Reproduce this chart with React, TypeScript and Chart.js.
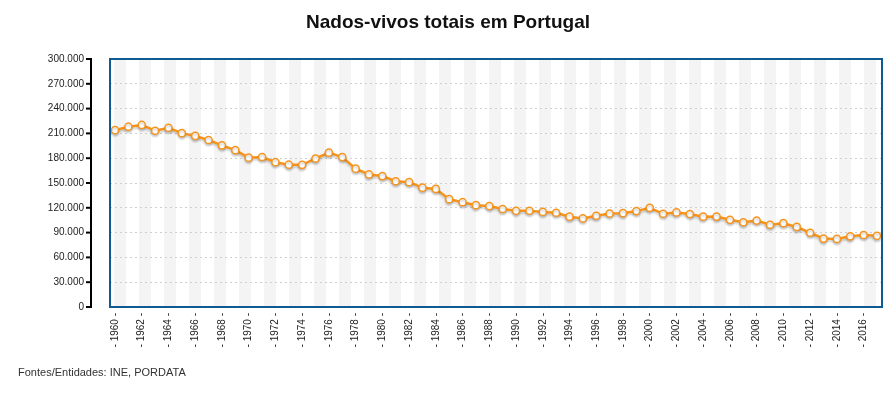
import React, { useEffect, useRef } from "react";
import { Chart, registerables } from "chart.js";

Chart.register(...registerables);

const chartTitle = "Nados-vivos totais em Portugal";
const sourceText = "Fontes/Entidades: INE, PORDATA";

const years = [
  1960, 1961, 1962, 1963, 1964, 1965, 1966, 1967, 1968, 1969,
  1970, 1971, 1972, 1973, 1974, 1975, 1976, 1977, 1978, 1979,
  1980, 1981, 1982, 1983, 1984, 1985, 1986, 1987, 1988, 1989,
  1990, 1991, 1992, 1993, 1994, 1995, 1996, 1997, 1998, 1999,
  2000, 2001, 2002, 2003, 2004, 2005, 2006, 2007, 2008, 2009,
  2010, 2011, 2012, 2013, 2014, 2015, 2016, 2017,
];

const births = [
  213895, 218091, 220200, 213233, 216819, 210299, 206940, 202011, 195570, 189762,
  180690, 181469, 175157, 172110, 172000, 179648, 186712, 181413, 167347, 160314,
  158352, 152101, 151029, 144327, 142805, 130492, 126748, 123218, 122121, 118560,
  116383, 116415, 115018, 114030, 109287, 107184, 110363, 113047, 113510, 116002,
  120008, 112774, 114383, 112515, 109298, 109399, 105449, 102492, 104594, 99491,
  101381, 96856, 89841, 82787, 82367, 85500, 87126, 86154,
];

const xTickYears = [
  1960, 1962, 1964, 1966, 1968, 1970, 1972, 1974, 1976, 1978,
  1980, 1982, 1984, 1986, 1988, 1990, 1992, 1994, 1996, 1998,
  2000, 2002, 2004, 2006, 2008, 2010, 2012, 2014, 2016,
];

const yTicks = [0, 30000, 60000, 90000, 120000, 150000, 180000, 210000, 240000, 270000, 300000];

const FONT = "'Liberation Sans', Arial, sans-serif";
const ORANGE = "#f7941d";
const BLUE = "#0f5a92";

function fmtThousands(v: number): string {
  return String(Math.round(v)).replace(/\B(?=(\d{3})+(?!\d))/g, ".");
}

const decorPlugin = {
  id: "decor",
  beforeDraw(chart: any) {
    const { ctx, chartArea } = chart;
    const xs = chart.scales.x;
    const start = xs.getPixelForValue(years[0]) - 1;
    const period = 25;
    const bandW = 12;
    ctx.save();
    ctx.fillStyle = "#f4f4f4";
    for (let x = start - period * 2; x < chartArea.right; x += period) {
      const a = Math.max(x, chartArea.left);
      const b = Math.min(x + bandW, chartArea.right);
      if (b > a) ctx.fillRect(a, chartArea.top, b - a, chartArea.bottom - chartArea.top);
    }
    ctx.restore();
  },
  beforeDatasetsDraw(chart: any) {
    const ctx = chart.ctx;
    ctx.save();
    ctx.shadowColor = "rgba(0,0,0,0.18)";
    ctx.shadowBlur = 2;
    ctx.shadowOffsetX = 0;
    ctx.shadowOffsetY = 2;
  },
  afterDatasetsDraw(chart: any) {
    chart.ctx.restore();
  },
  afterDraw(chart: any) {
    const { ctx, chartArea, width } = chart;
    const ys = chart.scales.y;
    ctx.save();
    // plot border
    ctx.strokeStyle = BLUE;
    ctx.lineWidth = 2;
    ctx.strokeRect(chartArea.left, chartArea.top, chartArea.right - chartArea.left, chartArea.bottom - chartArea.top);
    // detached y axis line
    const ax = chartArea.left - 19;
    ctx.strokeStyle = "#000";
    ctx.lineWidth = 2;
    ctx.beginPath();
    ctx.moveTo(ax, ys.getPixelForValue(yTicks[yTicks.length - 1]) - 1);
    ctx.lineTo(ax, ys.getPixelForValue(yTicks[0]) + 1);
    ctx.stroke();
    ctx.lineWidth = 2;
    for (const v of yTicks) {
      const y = ys.getPixelForValue(v);
      ctx.beginPath();
      ctx.moveTo(ax - 5, y);
      ctx.lineTo(ax, y);
      ctx.stroke();
    }
    // title
    ctx.fillStyle = "#111";
    ctx.font = `bold 19px ${FONT}`;
    ctx.textAlign = "center";
    ctx.textBaseline = "middle";
    ctx.fillText(chartTitle, width / 2, 23);
    // source
    ctx.fillStyle = "#333";
    ctx.font = `11px ${FONT}`;
    ctx.textAlign = "left";
    ctx.fillText(sourceText, 18, 373);
    ctx.restore();
  },
};

export default function App() {
  const ref = useRef<HTMLCanvasElement | null>(null);
  useEffect(() => {
    if (!ref.current) return;
    const chart = new Chart(ref.current, {
      type: "line",
      data: {
        datasets: [
          {
            label: "Nados-vivos",
            data: years.map((yr, i) => ({ x: yr, y: births[i] })),
            borderColor: ORANGE,
            borderWidth: 2.5,
            pointRadius: 3.6,
            pointBorderWidth: 1.5,
            pointBackgroundColor: "#fff",
            pointBorderColor: ORANGE,
            tension: 0,
            clip: false as any,
          },
        ],
      },
      options: {
        animation: false,
        responsive: false,
        devicePixelRatio: 1,
        layout: { padding: { top: 59, right: 14, bottom: 0, left: 0 } },
        plugins: {
          legend: { display: false },
          title: { display: false },
          tooltip: { enabled: false },
        },
        scales: {
          x: {
            type: "linear",
            min: years[0] - 0.374,
            max: years[years.length - 1] + 0.374,
            grid: { display: false, drawTicks: false },
            border: { display: false },
            afterBuildTicks: (s: any) => {
              s.ticks = xTickYears.map((v) => ({ value: v }));
            },
            afterFit: (s: any) => {
              s.height = 86;
            },
            ticks: {
              autoSkip: false,
              maxRotation: 90,
              minRotation: 90,
              padding: 6,
              color: "#222",
              font: { size: 10, family: FONT },
              callback: (v: any) => `- ${v} -`,
            },
          },
          y: {
            min: 0,
            max: 300000,
            afterBuildTicks: (s: any) => {
              s.ticks = yTicks.map((v) => ({ value: v }));
            },
            afterFit: (s: any) => {
              s.width = 110;
            },
            grid: { color: "#cfcfcf", lineWidth: 1, drawTicks: false },
            border: { display: false, dash: [2, 3] },
            ticks: {
              padding: 26,
              color: "#222",
              font: { size: 10, family: FONT },
              callback: (v: any) => fmtThousands(Number(v)),
            },
          },
        },
      },
      plugins: [decorPlugin],
    });
    return () => chart.destroy();
  }, []);
  return (
    <div style={{ position: "absolute", left: 0, top: 0, width: 896, height: 393, background: "#fff" }}>
      <canvas ref={ref} width={896} height={393} style={{ display: "block" }} />
    </div>
  );
}
